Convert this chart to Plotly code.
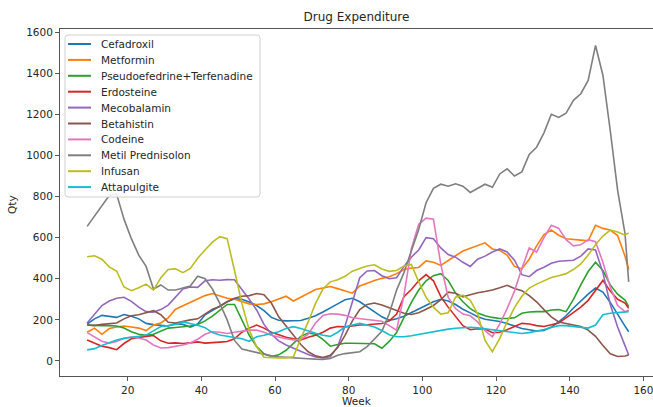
import plotly.graph_objects as go

# Week numbers (odd weeks plus the final week)
weeks = list(range(9, 156, 2)) + [156]

cefadroxil = [180, 205, 222, 218, 212, 226, 218, 205, 183, 177,
              172, 170, 182, 178, 165, 180, 225, 246, 265, 288,
              303, 300, 287, 270, 245, 212, 198, 195, 196, 197,
              208, 220, 238, 260, 278, 298, 305, 288, 264, 242,
              215, 198, 205, 218, 235, 250, 268, 288, 300, 292,
              275, 252, 234, 215, 203, 199, 192, 182, 170, 158,
              152, 146, 148, 165, 190, 220, 258, 293, 325, 355,
              335, 285, 225, 170, 142]
metformin = [140, 160, 130, 158, 165, 170, 165, 160, 148, 175,
             185, 210, 252, 268, 282, 300, 318, 328, 318, 305,
             300, 290, 278, 275, 278, 288, 300, 315, 292, 312,
             332, 348, 355, 362, 352, 340, 330, 365, 380, 392,
             402, 410, 425, 445, 452, 455, 487, 480, 465, 490,
             512, 535, 548, 560, 575, 545, 538, 515, 460, 448,
             495, 560, 615, 637, 612, 595, 590, 588, 585, 660,
             645, 637, 610, 510, 445]
pseudoefedrine = [175, 172, 172, 172, 170, 160, 142, 130, 125, 130,
                  146, 160, 163, 166, 170, 178, 195, 218, 245, 275,
                  275, 200, 125, 70, 35, 22, 30, 52, 85, 120,
                  136, 130, 105, 72, 80, 86, 86, 86, 86, 84,
                  62, 95, 138, 210, 285, 345, 390, 415, 425, 392,
                  330, 288, 255, 233, 220, 212, 207, 207, 210, 232,
                  238, 240, 240, 248, 250, 240, 300, 370, 435, 480,
                  440, 370, 325, 296, 264]
erdosteine = [102, 86, 72, 65, 55, 85, 108, 115, 120, 124,
              98, 86, 88, 85, 88, 93, 87, 88, 92, 95,
              108, 140, 160, 175, 160, 140, 128, 115, 108, 102,
              115, 125, 140, 160, 168, 166, 170, 175, 176, 178,
              182, 195, 228, 313, 348, 390, 420, 390, 313, 262,
              218, 172, 152, 157, 155, 138, 140, 152, 168, 183,
              180, 172, 168, 175, 185, 210, 238, 262, 295, 345,
              392, 340, 300, 282, 256]
mecobalamin = [185, 225, 270, 292, 305, 310, 290, 262, 240, 238,
               250, 272, 310, 350, 360, 358, 390, 395, 393, 396,
               395, 350, 300, 248, 178, 130, 98, 78, 62, 45,
               32, 20, 15, 20, 70, 170, 290, 405, 438, 440,
               415, 400, 405, 460, 505, 540, 600, 595, 550, 518,
               505, 480, 460, 495, 510, 530, 545, 530, 490, 420,
               410, 440, 456, 475, 485, 488, 490, 510, 545, 540,
               430, 275, 165, 75, 29]
betahistin = [175, 172, 178, 182, 185, 205, 220, 225, 235, 245,
              225, 188, 185, 193, 200, 205, 228, 252, 265, 288,
              305, 315, 318, 328, 322, 282, 215, 170, 120, 80,
              45, 25, 17, 28, 65, 125, 195, 250, 275, 282,
              272, 258, 245, 232, 226, 235, 252, 270, 298, 335,
              330, 312, 322, 332, 338, 345, 356, 368, 353, 342,
              318, 288, 250, 215, 190, 182, 176, 168, 150, 120,
              75, 35, 22, 24, 29]
codeine = [138, 118, 96, 87, 95, 110, 117, 112, 102, 78,
           63, 65, 70, 78, 88, 106, 130, 142, 140, 134,
           140, 145, 150, 150, 140, 125, 115, 108, 102, 105,
           130, 185, 222, 230, 228, 222, 210, 205, 202, 198,
           193, 172, 150, 320, 545, 665, 695, 690, 470, 310,
           255, 228, 220, 190, 148, 118, 180, 255, 340, 450,
           550, 530, 600, 660, 645, 590, 560, 565, 590, 580,
           480, 360, 270, 240, 248]
metil_prednisolon = [655, 705, 755, 805, 812, 690, 595, 515, 460, 350,
                     370, 345, 345, 355, 365, 412, 400, 350, 280, 200,
                     100, 58, 50, 40, 33, 25, 20, 17, 15, 13,
                     11, 9, 8, 12, 28, 36, 40, 45, 70, 105,
                     145, 230, 345, 430, 530, 640, 770, 840, 860, 850,
                     862, 850, 820, 840, 860, 845, 910, 935, 900, 920,
                     1005, 1040, 1110, 1200, 1185, 1205, 1268, 1300, 1365, 1535,
                     1390, 1120, 830, 620, 385]
infusan = [507, 512, 495, 458, 438, 360, 342, 356, 374, 345,
           405, 445, 448, 430, 450, 500, 540, 578, 605, 595,
           440, 280, 150, 70, 18, 15, 15, 15, 20, 110,
           190, 280, 350, 385, 395, 412, 437, 450, 462, 468,
           448, 436, 440, 462, 470, 385, 310, 262, 228, 235,
           310, 320, 295, 230, 100, 45, 110, 190, 260, 315,
           355, 374, 390, 406, 415, 425, 445, 472, 515, 565,
           608, 637, 628, 612, 623]
attapulgite = [54, 60, 75, 90, 102, 110, 114, 120, 126, 145,
               168, 172, 178, 190, 182, 174, 162, 138, 126, 120,
               114, 108, 96, 118, 125, 132, 142, 158, 167, 158,
               145, 135, 125, 120, 140, 165, 175, 183, 175, 165,
               148, 128, 118, 118, 123, 130, 137, 144, 151, 155,
               159, 162, 164, 161, 157, 152, 148, 143, 138, 134,
               138, 144, 153, 163, 172, 172, 168, 163, 160, 175,
               225, 232, 236, 238, 240]

drug_names = ["Cefadroxil", "Metformin", "Pseudoefedrine+Terfenadine", "Erdosteine",
              "Mecobalamin", "Betahistin", "Codeine", "Metil Prednisolon",
              "Infusan", "Attapulgite"]
series = [cefadroxil, metformin, pseudoefedrine, erdosteine, mecobalamin,
          betahistin, codeine, metil_prednisolon, infusan, attapulgite]
colors = ["#1f77b4", "#ff7f0e", "#2ca02c", "#d62728", "#9467bd",
          "#8c564b", "#e377c2", "#7f7f7f", "#bcbd22", "#17becf"]

FONT = "DejaVu Sans"
W, H = 653, 407
ML, MR, MT, MB = 60, 0, 29, 31
PW, PH = W - ML - MR, H - MT - MB


def paper(px, py):
    """Convert page pixels to paper coordinates of the plot area."""
    return (px - ML) / PW, (H - MB - py) / PH


fig = go.Figure()
for name, vals, col in zip(drug_names, series, colors):
    fig.add_trace(go.Scatter(x=weeks, y=vals, mode="lines", name=name,
                             line=dict(color=col, width=1.6), showlegend=False))

# Legend panel (rounded frame) drawn on top of the lines
shapes = []
bl, bt, br, bb, r = 65, 35, 260, 197, 3
corner_pts = []


def pt(px, py):
    x, y = paper(px, py)
    return f"{x:.5f},{y:.5f}"


frame_path = (f"M {pt(bl + r, bt)} L {pt(br - r, bt)} Q {pt(br, bt)} {pt(br, bt + r)} "
              f"L {pt(br, bb - r)} Q {pt(br, bb)} {pt(br - r, bb)} "
              f"L {pt(bl + r, bb)} Q {pt(bl, bb)} {pt(bl, bb - r)} "
              f"L {pt(bl, bt + r)} Q {pt(bl, bt)} {pt(bl + r, bt)} Z")
shapes.append(dict(type="path", xref="paper", yref="paper", path=frame_path,
                   line=dict(color="#d0d0d0", width=1), fillcolor="rgba(255,255,255,0.85)",
                   layer="above"))
annotations = []
for i, (name, col) in enumerate(zip(drug_names, colors)):
    ry = 44 + i * 15.9
    hx0, hy = paper(68, ry)
    hx1, _ = paper(91, ry)
    shapes.append(dict(type="line", xref="paper", yref="paper", x0=hx0, x1=hx1, y0=hy, y1=hy,
                       line=dict(color=col, width=2), layer="above"))
    tx, ty = paper(99, ry)
    annotations.append(dict(text=name, xref="paper", yref="paper", x=tx, y=ty,
                            xanchor="left", yanchor="middle", showarrow=False,
                            font=dict(family=FONT, size=10.5, color="#262626")))

qx, qy = paper(12, 205)
annotations.append(dict(text="Qty", xref="paper", yref="paper", x=qx, y=qy, textangle=-90,
                        xanchor="center", yanchor="middle", showarrow=False,
                        font=dict(family=FONT, size=10.5, color="#262626")))
wx, wy = paper(357, 401)
annotations.append(dict(text="Week", xref="paper", yref="paper", x=wx, y=wy,
                        xanchor="center", yanchor="middle", showarrow=False,
                        font=dict(family=FONT, size=10.5, color="#262626")))

axis_common = dict(showgrid=False, zeroline=False, showline=True, linecolor="#555555",
                   linewidth=1, ticks="outside", ticklen=4, tickcolor="#555555",
                   ticklabeloverflow="allow",
                   tickfont=dict(family=FONT, size=10.5, color="#262626"))

fig.update_layout(
    width=W, height=H,
    margin=dict(l=ML, r=MR, t=MT, b=MB),
    paper_bgcolor="white", plot_bgcolor="white",
    title=dict(text="Drug Expenditure", x=0.5, xref="paper", xanchor="center",
               y=1 - 17 / H, yanchor="middle",
               font=dict(family=FONT, size=12, color="#262626")),
    xaxis=dict(range=[1.63, 162.6], tickvals=[20, 40, 60, 80, 100, 120, 140, 160],
               mirror=True, **axis_common),
    yaxis=dict(range=[-73, 1615], tickvals=[0, 200, 400, 600, 800, 1000, 1200, 1400, 1600],
               **axis_common),
    shapes=shapes,
    annotations=annotations,
)

fig.write_html("out.html")
